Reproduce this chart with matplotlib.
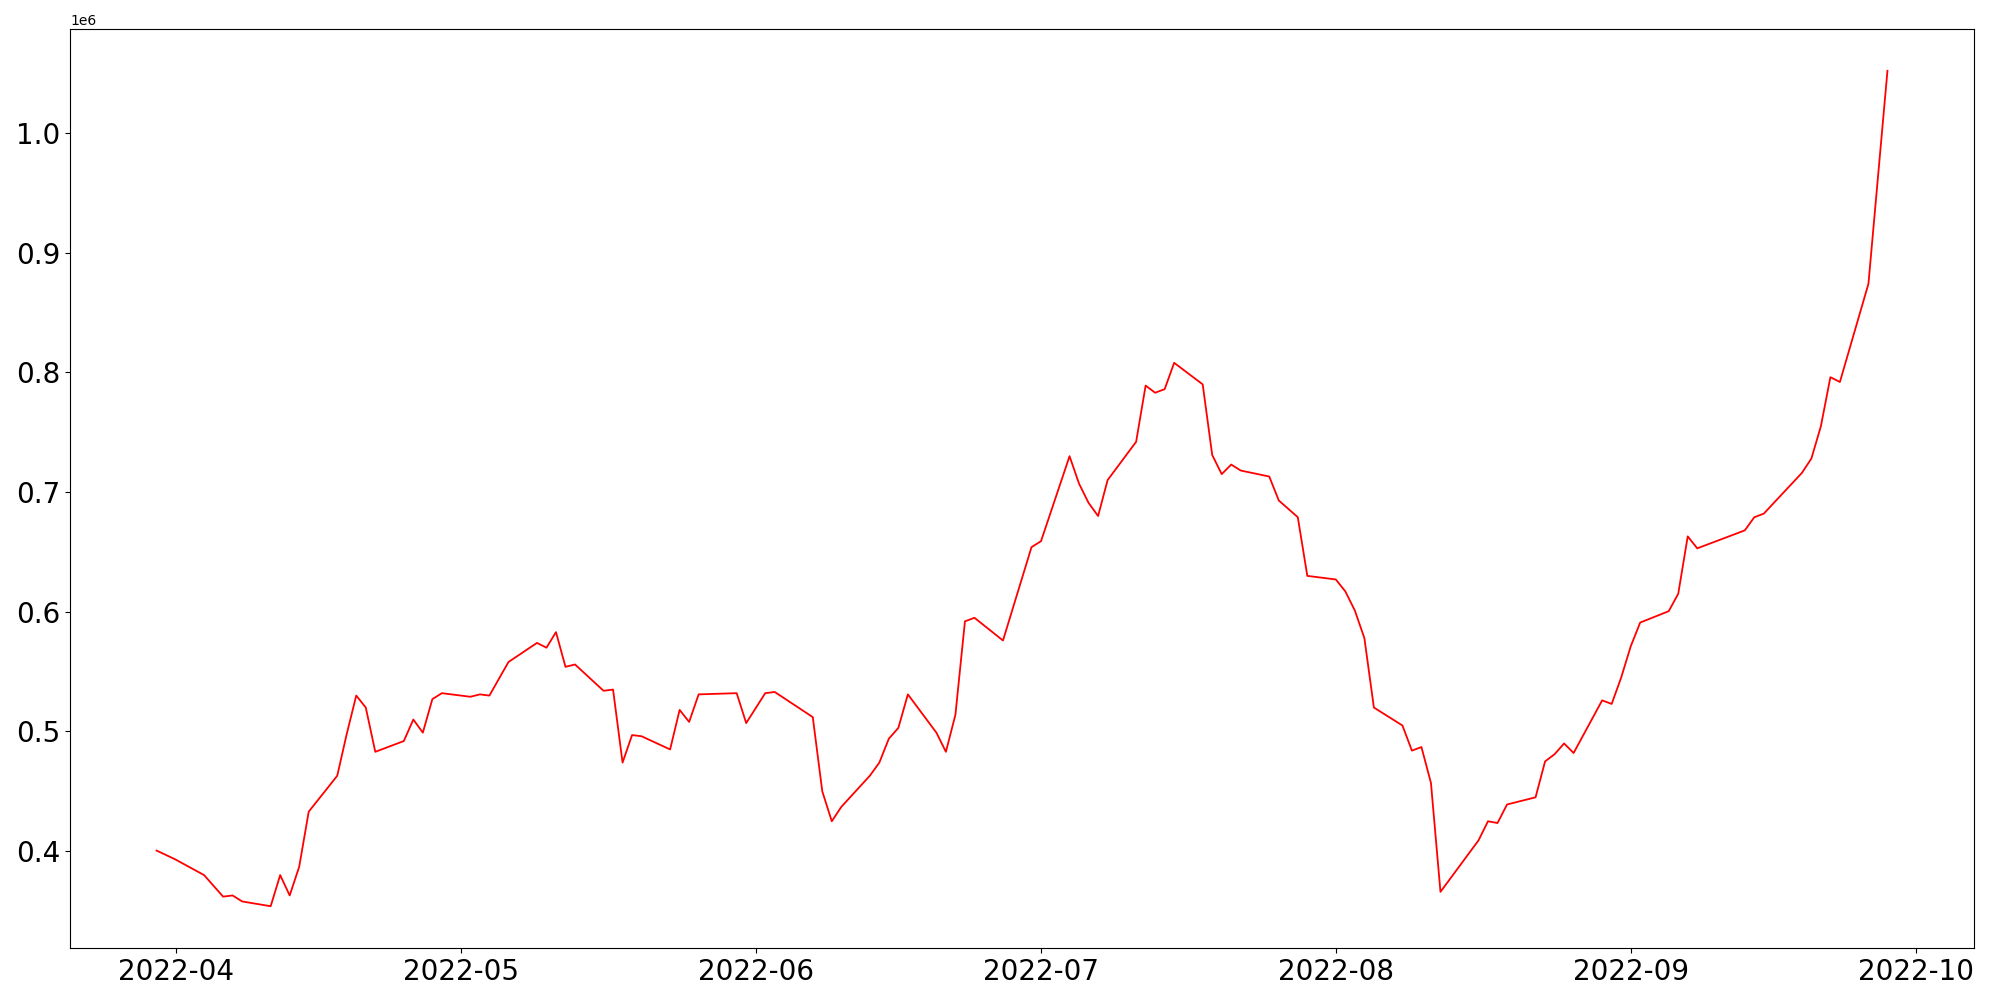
import matplotlib
matplotlib.use("Agg")
import matplotlib.pyplot as plt
import pandas as pd

dates = [
    "2022-03-30", "2022-03-31", "2022-04-01", "2022-04-04", "2022-04-06", "2022-04-07",
    "2022-04-08", "2022-04-11", "2022-04-12", "2022-04-13", "2022-04-14", "2022-04-15",
    "2022-04-18", "2022-04-19", "2022-04-20", "2022-04-21", "2022-04-22", "2022-04-25",
    "2022-04-26", "2022-04-27", "2022-04-28", "2022-04-29", "2022-05-02", "2022-05-03",
    "2022-05-04", "2022-05-06", "2022-05-09", "2022-05-10", "2022-05-11", "2022-05-12",
    "2022-05-13", "2022-05-16", "2022-05-17", "2022-05-18", "2022-05-19", "2022-05-20",
    "2022-05-23", "2022-05-24", "2022-05-25", "2022-05-26", "2022-05-30", "2022-05-31",
    "2022-06-02", "2022-06-03", "2022-06-07", "2022-06-08", "2022-06-09", "2022-06-10",
    "2022-06-13", "2022-06-14", "2022-06-15", "2022-06-16", "2022-06-17", "2022-06-20",
    "2022-06-21", "2022-06-22", "2022-06-23", "2022-06-24", "2022-06-27",
    "2022-06-30", "2022-07-01", "2022-07-04", "2022-07-05", "2022-07-06", "2022-07-07",
    "2022-07-08", "2022-07-11", "2022-07-12", "2022-07-13", "2022-07-14", "2022-07-15",
    "2022-07-18", "2022-07-19", "2022-07-20", "2022-07-21", "2022-07-22", "2022-07-25",
    "2022-07-26", "2022-07-27", "2022-07-28", "2022-07-29", "2022-08-01", "2022-08-02",
    "2022-08-03", "2022-08-04", "2022-08-05", "2022-08-08", "2022-08-09", "2022-08-10",
    "2022-08-11", "2022-08-12", "2022-08-16", "2022-08-17", "2022-08-18", "2022-08-19",
    "2022-08-22", "2022-08-23", "2022-08-24", "2022-08-25", "2022-08-26", "2022-08-29",
    "2022-08-30", "2022-08-31", "2022-09-01", "2022-09-02", "2022-09-05", "2022-09-06",
    "2022-09-07", "2022-09-08", "2022-09-13", "2022-09-14", "2022-09-15", "2022-09-19",
    "2022-09-20", "2022-09-21", "2022-09-22", "2022-09-23", "2022-09-26",
    "2022-09-28",
]

values = [
    400500, 396800, 393000, 380000, 362000, 363000,
    358000, 354000, 380000, 363000, 387000, 433000,
    463000, 498000, 530000, 520000, 483000, 492000,
    510000, 499000, 527000, 532000, 529000, 531000,
    530000, 558000, 574000, 570000, 583000, 554000,
    556000, 534000, 535000, 474000, 497000, 496000,
    485000, 518000, 508000, 531000, 532000, 507000,
    532000, 533000, 512000, 450000, 425000, 437000,
    463000, 474000, 494000, 503000, 531000, 499000,
    483000, 514000, 592000, 595000, 576000,
    654000, 659000, 730000, 707000, 691000, 680000,
    710000, 742000, 789000, 783000, 786000, 808000,
    790000, 731000, 715000, 723000, 718000, 713000,
    693000, 686000, 679000, 630000, 627000, 617000,
    601000, 578000, 520000, 505000, 484000, 487000,
    457000, 366000, 409000, 425000, 423500, 439000,
    445000, 475000, 481000, 490000, 482000, 526000,
    523000, 545000, 571000, 591000, 600500, 615000,
    663000, 653000, 668000, 679000, 682000, 716000,
    728000, 755000, 796000, 792000, 874000,
    1052000,
]

x = pd.to_datetime(dates)

fig, ax = plt.subplots(figsize=(20, 10), dpi=100)
ax.plot(x, values, color="red", linewidth=1.3)
ax.tick_params(axis="both", labelsize=20)
fig.subplots_adjust(left=0.035, right=0.987, top=0.971, bottom=0.052)
fig.savefig("out.png", dpi=100)
